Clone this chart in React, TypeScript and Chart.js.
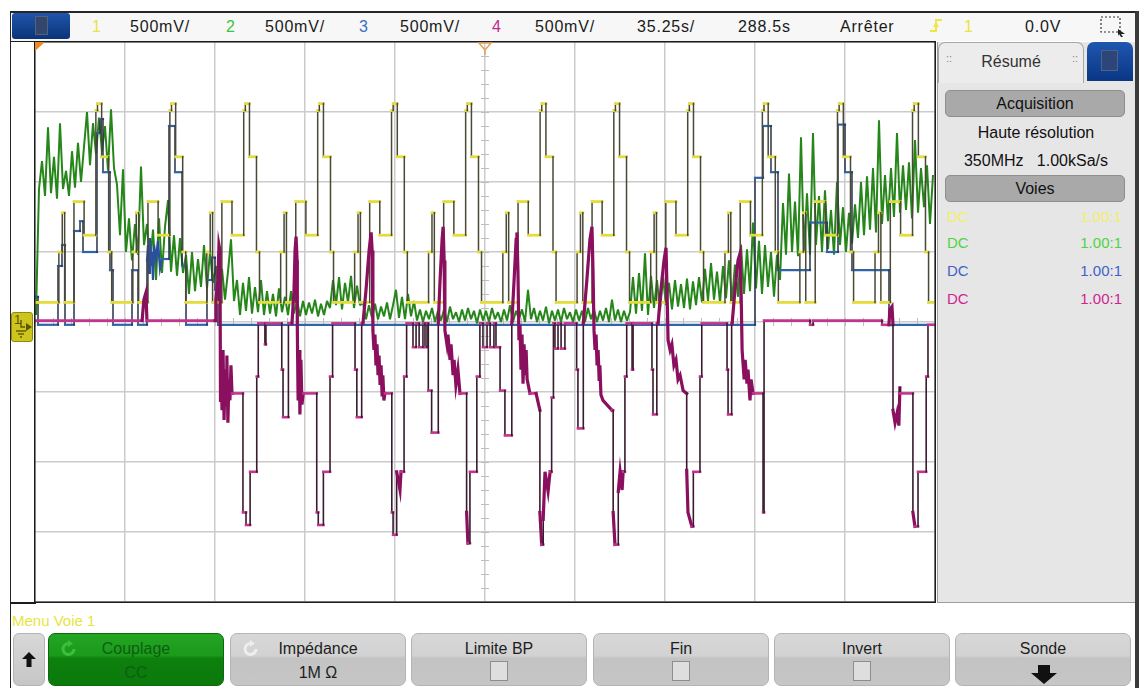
import React, { useEffect, useRef } from 'react';
import { Chart, registerables } from 'chart.js';

Chart.register(...registerables);

// ---- acquisition settings (status bar) ----
const TIME_PER_DIV = 35.25; // s/div
const TIME_CENTER = 288.5; // s
const VOLTS_PER_DIV = 0.5; // V/div (all four channels)
const H_DIVS = 10;
const V_DIVS = 8;
const T_MIN = TIME_CENTER - (H_DIVS / 2) * TIME_PER_DIV;
const T_MAX = TIME_CENTER + (H_DIVS / 2) * TIME_PER_DIV;
const V_MIN = -(V_DIVS / 2) * VOLTS_PER_DIV;
const V_MAX = (V_DIVS / 2) * VOLTS_PER_DIV;

// ---- channel 1 (yellow): repeating staircase ----
const CH1_IDLE = 0.14; // V
// time (s) at which each cycle falls back to the idle level
const CH1_CYCLE_STARTS = [113.31, 142.29, 171.28, 200.18, 229.17, 258.08, 287.14, 316.33, 345.11, 374.1, 403.4, 432.86, 462.23];
// position of each step inside one cycle (fraction of the cycle) and the level it goes to (V)
const CH1_STEP_PHASE = [0, 0.286, 0.332, 0.364, 0.49, 0.627, 0.786, 0.808, 0.864, 0.959];
const CH1_STEP_LEVEL = [0.14, 0.5, 0.78, 0.14, 0.86, 0.62, 1.51, 1.56, 1.18, 0.5];

// ---- channel 2 (green): sampled record ----
const CH2_T0 = 112.64; // s
const CH2_DT = 1.175; // s between displayed samples
const CH2_VALUES = [
  0.05, 0.95, 1.15, 0.9, 1.39, 0.92, 1.18, 0.88, 1.42, 0.95,
  1.08, 0.9, 1.22, 0.96, 1.28, 1.0, 1.25, 1.5, 1.12, 1.42,
  1.2, 1.46, 1.22, 1.4, 1.08, 1.52, 1.1, 0.98, 0.62, 1.09,
  0.5, 0.74, 0.44, 0.7, 0.48, 1.11, 0.55, 0.7, 0.4, 0.66,
  0.3, 0.74, 0.35, 0.68, 0.87, 0.36, 0.62, 0.33, 0.6, 0.35,
  0.48, 0.2, 0.5, 0.22, 0.45, 0.25, 0.55, 0.24, 0.5, 0.28,
  0.4, 0.15, 0.38, 0.16, 0.36, 0.59, 0.15, 0.3, 0.05, 0.28,
  0.08, 0.32, 0.06, 0.25, 0.07, 0.3, 0.05, 0.22, 0.06, 0.2,
  0.04, 0.24, 0.07, 0.18, 0.05, 0.22, 0.06, 0.16, 0.04, 0.15,
  0.05, 0.14, 0.06, 0.16, 0.04, 0.13, 0.05, 0.15, 0.1, 0.3,
  0.12, 0.32, 0.09, 0.28, 0.14, 0.33, 0.1, 0.26, 0.12, 0.14,
  0.02, 0.12, 0.03, 0.13, 0.02, 0.11, 0.04, 0.14, 0.02, 0.12,
  0.23, 0.03, 0.18, 0.02, 0.2, 0.04, 0.15, 0.01, 0.09, 0.0,
  0.08, 0.02, 0.1, 0.0, 0.08, 0.01, 0.09, 0.0, 0.11, 0.02,
  0.07, 0.0, 0.09, 0.01, 0.1, 0.02, 0.08, -0.01, 0.09, 0.01,
  0.08, 0.0, 0.1, 0.02, 0.07, 0.0, 0.09, 0.01, 0.12, 0.0,
  0.08, 0.02, 0.09, 0.0, 0.23, 0.02, 0.1, 0.0, 0.08, 0.01,
  0.11, -0.01, 0.08, 0.01, 0.09, 0.0, 0.1, 0.02, 0.07, 0.0,
  0.09, 0.01, 0.08, 0.0, 0.1, 0.02, 0.09, 0.0, 0.08, 0.01,
  0.1, 0.0, 0.16, 0.01, 0.09, 0.0, 0.08, 0.01, 0.07, 0.32,
  0.06, 0.35, 0.08, 0.49, 0.05, 0.33, 0.1, 0.3, 0.08, 0.32,
  0.12, 0.28, 0.09, 0.3, 0.11, 0.27, 0.1, 0.31, 0.09, 0.29,
  0.12, 0.32, 0.14, 0.38, 0.15, 0.42, 0.16, 0.36, 0.14, 0.4,
  0.17, 0.44, 0.15, 0.41, 0.18, 0.55, 0.2, 0.52, 0.22, 0.71,
  0.24, 0.58, 0.2, 0.55, 0.25, 0.5, 0.18, 0.48, 0.3, 0.85,
  0.48, 1.06, 0.5, 0.86, 0.47, 1.32, 0.5, 0.92, 0.48, 1.35,
  0.55, 0.9, 0.5, 0.94, 0.52, 0.8, 0.48, 1.0, 0.55, 0.82,
  0.5, 0.78, 0.56, 0.84, 0.6, 1.0, 0.62, 1.04, 0.66, 1.1,
  0.64, 1.44, 0.7, 1.05, 0.72, 1.1, 0.75, 1.35, 0.78, 1.12,
  0.8, 1.14, 0.74, 1.3, 0.78, 1.1, 0.82, 1.12, 0.7, 1.05,
];

// ---- channel 3 (blue): [time s, volts] ----
const CH3_POINTS: [number, number][] = [
  [112.25, 0.18], [113.43, 0.18], [113.43, -0.02], [121.26, -0.02], [121.26, 0.4], [122.82, 0.4], [122.82, 0.55],
  [124.0, 0.55], [124.0, -0.02], [127.53, -0.02], [127.53, 0.65], [129.88, 0.65], [129.88, 0.72], [131.05, 0.72],
  [131.05, 0.5], [136.53, 0.5], [136.53, 1.35], [137.71, 1.35], [137.71, 1.45], [138.88, 1.45], [138.88, 1.07],
  [141.62, 1.07], [141.62, 0.37], [142.8, 0.37], [142.8, -0.02],
  [150.24, -0.02], [150.24, 0.37], [152.59, 0.37], [152.59, -0.02], [156.11, -0.02], [156.11, 0.44], [156.5, 0.55],
  [156.9, 0.35], [157.29, 0.6], [157.68, 0.4], [158.07, 0.5], [158.46, 0.3], [158.86, 0.55], [159.64, 0.45],
  [160.42, 0.58], [161.21, 0.38], [161.99, 0.45], [164.73, 0.45], [164.73, 1.4], [167.08, 1.4], [167.08, 1.07],
  [169.83, 1.07], [169.83, 0.4], [171.4, 0.4], [171.4, -0.02],
  [179.61, -0.02], [179.61, 0.3], [181.57, 0.3], [181.57, 0.46], [182.75, 0.46], [182.75, 0.23], [183.92, 0.23],
  [183.92, -0.02],
  [394.25, -0.02], [394.25, 1.03], [397.39, 1.03], [397.39, 1.4], [400.51, 1.4], [400.51, 1.07], [403.26, 1.07],
  [403.26, 0.37], [415.79, 0.37], [415.79, 0.71], [422.45, 0.71], [422.45, 0.5], [426.76, 0.5], [426.76, 1.41],
  [429.5, 1.41], [429.5, 1.07], [432.24, 1.07], [432.24, 0.37], [446.73, 0.37], [446.73, -0.02], [464.75, -0.02],
];

// ---- channel 4 (magenta): [time s, volts] ----
const CH4_POINTS: [number, number][] = [
  [112.25, 0.01], [154.2, 0.01], [154.9, 0.16], [155.7, 0.21], [156.1, 0.01], [182.8, 0.01],
  [183.1, 0.16], [183.9, 0.3], [184.3, 0.55], [184.7, 0.51], [184.9, -0.56],
  [185.1, -0.27], [185.5, -0.63], [185.9, -0.2], [186.3, -0.7], [186.7, -0.34], [187.1, -0.59], [187.4, -0.24],
  [187.8, -0.72], [188.2, -0.41], [188.6, -0.56], [189.0, -0.31], [189.4, -0.51],
  [193.7, -0.51], [193.7, -1.36], [194.9, -1.36], [194.9, -1.45], [196.5, -1.45], [196.5, -1.07], [199.1, -1.07],
  [199.1, -0.39], [199.7, -0.39], [199.7, -0.01],
  [202.3, -0.01], [202.3, -0.16], [202.7, -0.16], [202.7, -0.01],
  [208.9, -0.01], [208.9, -0.34], [209.4, -0.34], [209.4, -0.68], [211.5, -0.68], [211.5, -0.01],
  [212.9, -0.01], [213.7, 0.23], [214.1, 0.51], [214.5, 0.61], [214.9, 0.44], [215.0, -0.06], [215.3, -0.56],
  [215.7, -0.2], [216.0, -0.66], [216.4, -0.27], [216.8, -0.59], [217.3, -0.51],
  [222.6, -0.51], [222.6, -1.36], [223.2, -1.36], [223.2, -1.45], [225.2, -1.45], [225.2, -1.07], [227.8, -1.07],
  [227.8, -0.39], [228.8, -0.39], [228.8, -0.01],
  [237.6, -0.01], [237.6, -0.34], [238.3, -0.34], [238.3, -0.68], [240.2, -0.68], [240.2, -0.01],
  [240.7, -0.01], [241.9, 0.23], [243.1, 0.51], [243.9, 0.64], [244.3, 0.51], [244.6, -0.06], [245.0, -0.2],
  [245.4, -0.09], [245.8, -0.31], [246.2, -0.16], [246.6, -0.38], [247.0, -0.24], [247.4, -0.45], [247.8, -0.31],
  [248.2, -0.52], [248.5, -0.38], [248.9, -0.56], [249.3, -0.51],
  [252.0, -0.51], [252.0, -1.36], [252.5, -1.36], [252.5, -1.52], [253.9, -1.52], [253.9, -1.07], [255.2, -1.2],
  [255.6, -1.07], [256.8, -1.07], [256.8, -0.39], [257.8, -0.39], [257.8, -0.01],
  [260.3, -0.01], [260.3, -0.18], [261.5, -0.18], [261.5, -0.01], [262.7, -0.01], [262.7, -0.18], [264.2, -0.18],
  [264.2, -0.01], [265.0, -0.01], [265.0, -0.18], [265.8, -0.18], [265.8, -0.01],
  [266.3, -0.01], [266.3, -0.49], [267.6, -0.49], [267.6, -0.79], [270.2, -0.79], [270.2, -0.01],
  [270.9, 0.3], [271.7, 0.59], [272.1, 0.68], [272.5, 0.44], [272.8, -0.06], [273.6, -0.16], [274.0, -0.09],
  [274.8, -0.27], [275.2, -0.16], [276.0, -0.38], [276.4, -0.27], [277.1, -0.45], [277.9, -0.34], [278.7, -0.51],
  [281.3, -0.51], [281.3, -1.36], [281.8, -1.58], [282.6, -1.58], [282.6, -1.07], [285.3, -1.07], [285.3, -0.39],
  [286.5, -0.39], [286.5, -0.01],
  [287.7, -0.01], [287.7, -0.18], [289.3, -0.18], [289.3, -0.01], [290.5, -0.01], [290.5, -0.18], [292.0, -0.18],
  [292.0, -0.01], [292.8, -0.01], [292.8, -0.18], [294.4, -0.18], [294.4, -0.49],
  [296.3, -0.49], [296.3, -0.81], [299.0, -0.81], [299.0, -0.01],
  [299.9, 0.3], [300.7, 0.59], [301.0, 0.64], [301.4, 0.37], [301.8, -0.13], [302.2, -0.02], [302.6, -0.34],
  [303.0, -0.09], [303.4, -0.44], [303.8, -0.16], [304.2, -0.38], [304.6, -0.2], [305.0, -0.41], [306.1, -0.51],
  [308.5, -0.51], [310.0, -0.63],
  [310.0, -1.36], [310.7, -1.59], [311.3, -1.59], [311.3, -1.41], [312.0, -1.07], [313.2, -1.21], [314.0, -1.07],
  [314.6, -1.07], [314.6, -0.54], [315.3, -0.54], [315.3, -0.01],
  [315.9, -0.01], [315.9, -0.19], [317.1, -0.19], [317.1, -0.01], [318.3, -0.01], [318.3, -0.19], [319.8, -0.19],
  [319.8, -0.01],
  [324.4, -0.01], [324.4, -0.34], [324.9, -0.34], [324.9, -0.76], [327.0, -0.76], [327.0, -0.01],
  [328.4, 0.3], [329.6, 0.59], [330.4, 0.68], [330.8, 0.37], [331.2, -0.06], [331.6, -0.2], [332.0, -0.09],
  [332.4, -0.31], [332.8, -0.2], [333.2, -0.41], [333.5, -0.31], [333.9, -0.52], [334.7, -0.56], [338.2, -0.63],
  [338.7, -0.63],
  [338.7, -1.36], [339.4, -1.59], [340.7, -1.59], [340.7, -1.21], [341.4, -1.07], [342.2, -1.2], [342.6, -1.07],
  [343.3, -1.07], [343.3, -0.39], [344.0, -0.39], [344.0, -0.01],
  [346.1, -0.01], [346.1, -0.34], [346.5, -0.34], [346.5, -0.01],
  [353.9, -0.01], [353.9, -0.34], [354.3, -0.34], [354.3, -0.66], [355.8, -0.66], [355.8, -0.01],
  [356.3, -0.01], [357.4, 0.23], [358.6, 0.44], [359.4, 0.53], [359.8, 0.23], [360.2, -0.13], [361.0, -0.2],
  [361.7, -0.16], [362.5, -0.31], [363.3, -0.27], [364.1, -0.41], [364.9, -0.38], [366.1, -0.49], [367.5, -0.51],
  [367.5, -1.06], [368.0, -1.36], [369.5, -1.46], [370.1, -1.46], [370.1, -1.07], [372.7, -1.07], [372.7, -0.39],
  [373.4, -0.39], [373.4, -0.01],
  [383.3, -0.01], [383.3, -0.34], [383.7, -0.34], [383.7, -0.66], [385.1, -0.66], [385.1, -0.01],
  [385.3, -0.01], [386.4, 0.23], [387.6, 0.44], [388.4, 0.49], [388.8, 0.23], [389.2, -0.2], [390.0, -0.41],
  [390.4, -0.27], [391.1, -0.44], [391.5, -0.34], [392.3, -0.56], [392.7, -0.41], [393.5, -0.51],
  [397.4, -0.51], [397.4, -1.36], [397.8, -1.36], [397.8, 0.01],
  [415.8, 0.01], [415.8, -0.02], [417.0, -0.02], [417.0, 0.01], [444.0, 0.01], [444.0, -0.02], [446.7, -0.02],
  [447.1, 0.09], [447.9, 0.11], [448.3, -0.02], [448.3, -0.63], [449.1, -0.72], [449.9, -0.65], [450.6, -0.74],
  [451.0, -0.47], [451.0, -0.51], [456.1, -0.51], [456.1, -1.36], [456.9, -1.46], [458.1, -1.46], [458.1, -1.07],
  [461.3, -1.07], [461.3, -0.39], [462.0, -0.39], [462.0, -0.02], [464.75, -0.02],
];

type Pt = { x: number; y: number };

function buildCh1(): Pt[] {
  const pts: Pt[] = [{ x: T_MIN, y: CH1_IDLE }];
  let prev = CH1_IDLE;
  for (let k = 0; k < CH1_CYCLE_STARTS.length - 1; k++) {
    const start = CH1_CYCLE_STARTS[k];
    const period = CH1_CYCLE_STARTS[k + 1] - start;
    CH1_STEP_PHASE.forEach((phase, j) => {
      const t = start + phase * period;
      pts.push({ x: t, y: prev }, { x: t, y: CH1_STEP_LEVEL[j] });
      prev = CH1_STEP_LEVEL[j];
    });
  }
  const last = CH1_CYCLE_STARTS[CH1_CYCLE_STARTS.length - 1];
  pts.push({ x: last, y: prev }, { x: last, y: CH1_IDLE }, { x: T_MAX, y: CH1_IDLE });
  return pts;
}

const toPts = (arr: [number, number][]): Pt[] => arr.map(([x, y]) => ({ x, y }));

// Colour flat runs, transition edges and noisy stretches of a trace differently
function traceStyle(flat: string, edge: string, noise: string, wFlat: number, wEdge: number, wNoise: number) {
  const kind = (c: any) =>
    c.p0.parsed.x === c.p1.parsed.x ? 'edge' : c.p0.parsed.y === c.p1.parsed.y ? 'flat' : 'noise';
  return {
    borderColor: (c: any) => {
      const k = kind(c);
      return k === 'edge' ? edge : k === 'flat' ? flat : noise;
    },
    borderWidth: (c: any) => {
      const k = kind(c);
      return k === 'edge' ? wEdge : k === 'flat' ? wFlat : wNoise;
    },
  };
}

const X_GRID = Array.from({ length: H_DIVS + 1 }, (_, k) => T_MIN + k * TIME_PER_DIV);
const Y_GRID = Array.from({ length: V_DIVS + 1 }, (_, k) => V_MIN + k * VOLTS_PER_DIV);

// Graticule extras: minor ticks on the centre axes, frame, time-reference and trigger markers
const graticule = {
  id: 'graticule',
  beforeDatasetsDraw(chart: any) {
    const { ctx, scales } = chart;
    const cx = scales.x.getPixelForValue(TIME_CENTER);
    const cy = scales.y.getPixelForValue(0);
    ctx.save();
    ctx.strokeStyle = '#bdbdbd';
    ctx.lineWidth = 1;
    ctx.beginPath();
    for (let k = 0; k <= V_DIVS * 5; k++) {
      const py = Math.round(scales.y.getPixelForValue(V_MIN + (k * VOLTS_PER_DIV) / 5)) + 0.5;
      ctx.moveTo(cx - 4, py);
      ctx.lineTo(cx + 4, py);
    }
    for (let k = 0; k <= H_DIVS * 5; k++) {
      const px = Math.round(scales.x.getPixelForValue(T_MIN + (k * TIME_PER_DIV) / 5)) + 0.5;
      ctx.moveTo(px, cy - 4);
      ctx.lineTo(px, cy + 4);
    }
    ctx.stroke();
    ctx.restore();
  },
  afterDraw(chart: any) {
    const { ctx, chartArea: a, scales } = chart;
    ctx.save();
    ctx.strokeStyle = '#1c1c1c';
    ctx.lineWidth = 1.5;
    ctx.strokeRect(a.left - 0.25, a.top - 0.25, a.right - a.left + 0.5, a.bottom - a.top + 0.5);
    // time reference (left corner)
    ctx.fillStyle = '#ee8a22';
    ctx.beginPath();
    ctx.moveTo(a.left, a.top);
    ctx.lineTo(a.left + 10, a.top);
    ctx.lineTo(a.left, a.top + 9);
    ctx.closePath();
    ctx.fill();
    // trigger position
    const cx = scales.x.getPixelForValue(TIME_CENTER);
    ctx.strokeStyle = '#e0a45a';
    ctx.lineWidth = 1.5;
    ctx.beginPath();
    ctx.moveTo(cx - 6, a.top + 1);
    ctx.lineTo(cx + 6, a.top + 1);
    ctx.lineTo(cx, a.top + 8);
    ctx.closePath();
    ctx.moveTo(cx, a.top + 8);
    ctx.lineTo(cx, a.top + 13);
    ctx.stroke();
    ctx.restore();
  },
};

function ScopeTraces() {
  const ref = useRef<HTMLCanvasElement>(null);
  useEffect(() => {
    const ch2 = CH2_VALUES.map((v, i) => ({ x: CH2_T0 + i * CH2_DT, y: v }));
    const chart = new Chart(ref.current as HTMLCanvasElement, {
      type: 'line',
      data: {
        datasets: [
          {
            label: '4',
            data: toPts(CH4_POINTS),
            segment: traceStyle('#c4338f', '#3a1a2e', '#8a0f5e', 2.6, 1.6, 3.2),
            borderCapStyle: 'square',
          },
          {
            label: '1',
            data: buildCh1(),
            segment: traceStyle('#e2dc3c', '#4a4936', '#e2dc3c', 2.8, 1.5, 2.8),
            borderCapStyle: 'square',
          },
          {
            label: '3',
            data: toPts(CH3_POINTS),
            segment: traceStyle('#2f63aa', '#27324c', '#2a4fa0', 2.2, 1.5, 2.2),
            borderCapStyle: 'square',
          },
          {
            label: '2',
            data: ch2,
            borderColor: '#26861a',
            borderWidth: 2,
            borderJoinStyle: 'bevel',
          },
        ],
      },
      options: {
        animation: false,
        responsive: false,
        devicePixelRatio: 1,
        events: [],
        parsing: false as any,
        layout: { padding: 1 },
        elements: { point: { radius: 0 }, line: { tension: 0, borderJoinStyle: 'miter' } },
        plugins: { legend: { display: false }, tooltip: { enabled: false } },
        scales: {
          x: {
            type: 'linear',
            min: T_MIN,
            max: T_MAX,
            ticks: { display: false },
            grid: { color: '#cbcbcb', lineWidth: 1.5, drawTicks: false },
            border: { display: false },
            afterBuildTicks: (s: any) => {
              s.ticks = X_GRID.map((v) => ({ value: v }));
            },
          },
          y: {
            type: 'linear',
            min: V_MIN,
            max: V_MAX,
            ticks: { display: false },
            grid: { color: '#cbcbcb', lineWidth: 1.5, drawTicks: false },
            border: { display: false },
            afterBuildTicks: (s: any) => {
              s.ticks = Y_GRID.map((v) => ({ value: v }));
            },
          },
        },
      },
      plugins: [graticule],
    } as any);
    return () => chart.destroy();
  }, []);
  return <canvas ref={ref} width={902} height={562} style={{ display: 'block', width: 902, height: 562 }} />;
}

const FONT = '"Liberation Sans", Arial, sans-serif';

const abs = (left: number, top: number, extra: React.CSSProperties = {}): React.CSSProperties => ({
  position: 'absolute',
  left,
  top,
  ...extra,
});

const STATUS_ITEMS: { text: string; left: number; color: string }[] = [
  { text: '1', left: 92, color: '#e9e43f' },
  { text: '500mV/', left: 130, color: '#1a1a1a' },
  { text: '2', left: 226, color: '#3cc43c' },
  { text: '500mV/', left: 265, color: '#1a1a1a' },
  { text: '3', left: 359, color: '#3a6fc0' },
  { text: '500mV/', left: 400, color: '#1a1a1a' },
  { text: '4', left: 492, color: '#c02a8c' },
  { text: '500mV/', left: 535, color: '#1a1a1a' },
  { text: '35.25s/', left: 637, color: '#1a1a1a' },
  { text: '288.5s', left: 738, color: '#1a1a1a' },
  { text: 'Arrêter', left: 840, color: '#1a1a1a' },
  { text: '1', left: 964, color: '#e9e43f' },
  { text: '0.0V', left: 1025, color: '#1a1a1a' },
];

const CHANNEL_ROWS = [
  { color: '#f1ef6a', top: 208 },
  { color: '#4fd43f', top: 234 },
  { color: '#3f63c8', top: 262 },
  { color: '#d02490', top: 290 },
];

const SOFTKEYS = [
  { left: 48, title: 'Couplage', sub: 'CC', kind: 'green' },
  { left: 230, title: 'Impédance', sub: '1M Ω', kind: 'cycle' },
  { left: 411, title: 'Limite BP', sub: '', kind: 'check' },
  { left: 593, title: 'Fin', sub: '', kind: 'check' },
  { left: 774, title: 'Invert', sub: '', kind: 'check' },
  { left: 955, title: 'Sonde', sub: '', kind: 'arrow' },
];

function CycleIcon({ color }: { color: string }) {
  return (
    <svg width="20" height="20" style={abs(10, 5)}>
      <path d="M15 10 A5.5 5.5 0 1 1 10 4.5" fill="none" stroke={color} strokeWidth="3" />
      <polygon points="9,1 14,4.5 9,8" fill={color} />
    </svg>
  );
}

function Softkey({ left, title, sub, kind }: { left: number; title: string; sub: string; kind: string }) {
  const green = kind === 'green';
  const bg = green
    ? 'linear-gradient(to bottom, #23a523 0%, #1b9a1b 42%, #0d800d 48%, #0b7a0b 100%)'
    : 'linear-gradient(to bottom, #d7d7d7 0%, #d2d2d2 42%, #c3c3c3 48%, #c6c6c6 100%)';
  const txt = green ? '#0e5e10' : '#1e1e1e';
  return (
    <div
      style={abs(left, 633, {
        width: 176,
        height: 53,
        borderRadius: 7,
        background: bg,
        border: green ? '1px solid #0b6a0b' : '1px solid #b4b4b4',
        boxSizing: 'border-box',
      })}
    >
      {green && <CycleIcon color="#3cc03c" />}
      {kind === 'cycle' && <CycleIcon color="#eeeeee" />}
      <div style={abs(0, 5, { width: '100%', textAlign: 'center', fontSize: 16, color: txt, lineHeight: '20px' })}>
        {title}
      </div>
      {sub && (
        <div style={abs(0, 29, { width: '100%', textAlign: 'center', fontSize: 16, color: txt, lineHeight: '20px' })}>
          {sub}
        </div>
      )}
      {kind === 'check' && (
        <div
          style={abs(78, 27, {
            width: 18,
            height: 20,
            background: '#dedede',
            border: '1px solid #8d8d8d',
            boxSizing: 'border-box',
          })}
        />
      )}
      {kind === 'arrow' && (
        <svg width="30" height="20" style={abs(73, 31)}>
          <polygon points="9,0 21,0 21,8 28,8 15,19 2,8 9,8" fill="#111" />
        </svg>
      )}
    </div>
  );
}

export default function App() {
  return (
    <div
      style={{
        position: 'fixed',
        left: 0,
        top: 0,
        width: 1143,
        height: 688,
        background: '#ffffff',
        overflow: 'hidden',
        fontFamily: FONT,
      }}
    >
      {/* status bar */}
      <div style={abs(11, 12, { width: 1124, height: 29, background: '#f7f7f7' })} />
      <div
        style={abs(12, 13, {
          width: 58,
          height: 26,
          borderRadius: 3,
          background: 'linear-gradient(to bottom, #1f55ab, #0b3479)',
        })}
      >
        <div
          style={abs(23, 3, {
            width: 13,
            height: 19,
            background: '#33466e',
            border: '1px solid #51627f',
            boxSizing: 'border-box',
          })}
        />
      </div>
      {STATUS_ITEMS.map((it, i) => (
        <div
          key={i}
          style={abs(it.left, 12, {
            height: 29,
            lineHeight: '29px',
            fontSize: 16,
            letterSpacing: 0.8,
            color: it.color,
            whiteSpace: 'nowrap',
          })}
        >
          {it.text}
        </div>
      ))}
      <svg width="16" height="20" style={abs(928, 16)}>
        <polyline points="2,15 8,15 8,4 14,4" fill="none" stroke="#efe640" strokeWidth="2" />
        <polygon points="5,11 8,6 11,11" fill="#efe640" />
      </svg>
      <svg width="28" height="22" style={abs(1099, 15)}>
        <rect x="2" y="2" width="19" height="15" fill="none" stroke="#333" strokeWidth="1.2" strokeDasharray="2 2" />
        <polygon points="19,14 26,19 22,19 24,22 22,22 20,19 19,21" fill="#222" />
      </svg>

      {/* outer frame */}
      <div style={abs(10, 11, { width: 1129, height: 1.5, background: '#262626' })} />
      <div style={abs(9.5, 11, { width: 1.5, height: 677, background: '#262626' })} />
      <div style={abs(1135, 11, { width: 4, height: 677, background: '#3a3a3a' })} />
      <div style={abs(10, 40.5, { width: 26, height: 1.5, background: '#1c1c1c' })} />
      <div style={abs(10, 602, { width: 26, height: 1.5, background: '#1c1c1c' })} />

      {/* graticule and traces */}
      <div style={abs(34, 41, { width: 902, height: 562 })}>
        <ScopeTraces />
      </div>

      {/* channel 1 ground reference */}
      <div
        style={abs(11, 312, {
          width: 22,
          height: 30,
          background: '#cdc51e',
          border: '1px solid #8f8912',
          borderRadius: 3,
          boxSizing: 'border-box',
        })}
      >
        <span style={abs(2, -1, { fontSize: 13, color: '#5b5600', lineHeight: '16px' })}>1</span>
        <svg width="22" height="30" style={abs(-1, -1)}>
          <polyline points="10,8 10,15 14,15" fill="none" stroke="#5b5600" strokeWidth="1.4" />
          <line x1="5" y1="19" x2="15" y2="19" stroke="#5b5600" strokeWidth="1.4" />
          <line x1="7" y1="22" x2="13" y2="22" stroke="#5b5600" strokeWidth="1.4" />
          <line x1="9" y1="25" x2="11" y2="25" stroke="#5b5600" strokeWidth="1.4" />
          <polygon points="15,11 21,15 15,19" fill="#5b5600" />
        </svg>
      </div>

      {/* side panel */}
      <div
        style={abs(937, 42, {
          width: 198,
          height: 561,
          background: '#e6e6e6',
          borderLeft: '1px solid #9c9c9c',
          borderBottom: '1px solid #9c9c9c',
          boxSizing: 'border-box',
        })}
      />
      <div
        style={abs(938, 42, {
          width: 146,
          height: 41,
          background: '#ececec',
          border: '1px solid #a6a6a6',
          borderBottom: 'none',
          borderRadius: '7px 7px 0 0',
          boxSizing: 'border-box',
        })}
      >
        <div style={abs(0, 9, { width: '100%', textAlign: 'center', fontSize: 16, color: '#333', lineHeight: '20px' })}>
          Résumé
        </div>
        <div style={abs(7, 8, { fontSize: 11, color: '#888', lineHeight: '14px' })}>::</div>
        <div style={abs(133, 8, { fontSize: 11, color: '#888', lineHeight: '14px' })}>::</div>
      </div>
      <div
        style={abs(1087, 42, {
          width: 46,
          height: 39,
          borderRadius: '7px 7px 0 0',
          background: 'linear-gradient(to bottom, #1f57b0, #0a3684)',
        })}
      >
        <div
          style={abs(14, 8, {
            width: 17,
            height: 21,
            background: '#2c4677',
            border: '1px solid #4d6288',
            boxSizing: 'border-box',
          })}
        />
      </div>

      <div
        style={abs(945, 90, {
          width: 180,
          height: 27,
          borderRadius: 5,
          background: '#a9a9a9',
          border: '1px solid #8e8e8e',
          boxSizing: 'border-box',
          textAlign: 'center',
          fontSize: 16,
          lineHeight: '25px',
          color: '#111',
        })}
      >
        Acquisition
      </div>
      <div style={abs(937, 123, { width: 198, textAlign: 'center', fontSize: 16, lineHeight: '20px', color: '#111' })}>
        Haute résolution
      </div>
      <div style={abs(937, 151, { width: 198, textAlign: 'center', fontSize: 16, lineHeight: '20px', color: '#111', whiteSpace: 'pre' })}>
        {'350MHz   1.00kSa/s'}
      </div>
      <div
        style={abs(945, 175, {
          width: 180,
          height: 27,
          borderRadius: 5,
          background: '#a9a9a9',
          border: '1px solid #8e8e8e',
          boxSizing: 'border-box',
          textAlign: 'center',
          fontSize: 16,
          lineHeight: '25px',
          color: '#111',
        })}
      >
        Voies
      </div>
      {CHANNEL_ROWS.map((r, i) => (
        <React.Fragment key={i}>
          <div style={abs(947, r.top, { fontSize: 15, lineHeight: '18px', color: r.color })}>DC</div>
          <div style={abs(1022, r.top, { width: 100, textAlign: 'right', fontSize: 15, lineHeight: '18px', color: r.color })}>
            1.00:1
          </div>
        </React.Fragment>
      ))}

      {/* softkey menu */}
      <div style={abs(12, 612, { fontSize: 15, lineHeight: '18px', color: '#e6e43e' })}>Menu Voie 1</div>
      <div
        style={abs(13, 633, {
          width: 32,
          height: 53,
          borderRadius: 6,
          background: 'linear-gradient(to bottom, #d8d8d8, #c6c6c6)',
          border: '1px solid #b4b4b4',
          boxSizing: 'border-box',
        })}
      >
        <svg width="16" height="18" style={abs(7, 17)}>
          <polygon points="8,1 15,8 10.5,8 10.5,16 5.5,16 5.5,8 1,8" fill="#111" />
        </svg>
      </div>
      {SOFTKEYS.map((k) => (
        <Softkey key={k.title} {...k} />
      ))}
    </div>
  );
}
